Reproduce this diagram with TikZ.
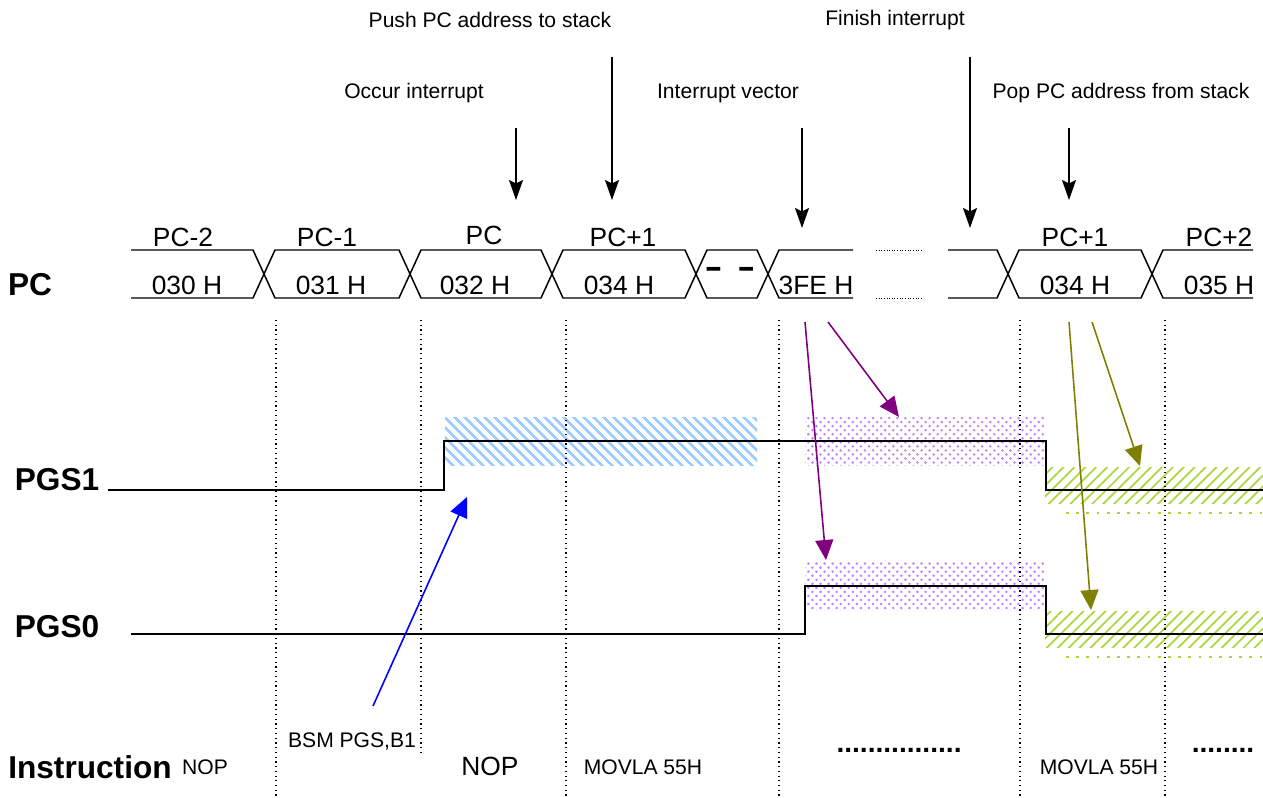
\documentclass[tikz,border=0pt]{standalone}
\usepackage{fontspec}
\setmainfont{Liberation Sans}
\usetikzlibrary{arrows.meta,patterns.meta}
\definecolor{hatchblue}{RGB}{160,205,255}
\definecolor{dotviolet}{RGB}{195,130,255}
\definecolor{hatchgreen}{RGB}{170,215,60}
\definecolor{arrpurple}{RGB}{128,0,128}
\definecolor{arrolive}{RGB}{128,128,0}

\begin{document}
\begin{tikzpicture}[x=0.2mm,y=-0.2mm,
  lbl/.style={inner sep=0pt,font=\fontsize{12}{14}\selectfont},
  bus/.style={inner sep=0pt,font=\fontsize{15}{17}\selectfont},
  sig/.style={inner sep=0pt,font=\fontsize{18}{20}\selectfont\bfseries},
  dotrow/.style={inner sep=0pt,font=\fontsize{16}{18}\selectfont\bfseries},
  w/.style={line width=0.85pt},
  lvl/.style={line width=1.1pt},
  grid/.style={dotted,line width=0.7pt},
  dn/.style={line width=0.8pt,-{Stealth[length=4mm,width=2.8mm,inset=0.7mm]}},
  tip/.style={line width=0.9pt,-{Triangle[length=4mm,width=3.6mm]}}]
\useasboundingbox (0,0) rectangle (1263,798);

% events on top
\node[lbl] (push) at (490,20) {Push PC address to stack};
\node[lbl] (fin) at (895,20) {Finish interrupt};
\node[lbl] (occ) at (414,93) {Occur interrupt};
\node[lbl] (vec) at (728,93) {Interrupt vector};
\node[lbl] (pop) at (1121,93) {Pop PC address from stack};
\coordinate (a1) at (516,128); \coordinate (b1) at (516,200);
\coordinate (a2) at (612,57);  \coordinate (b2) at (612,200);
\coordinate (a3) at (802,128); \coordinate (b3) at (802,228);
\coordinate (a4) at (970,57);  \coordinate (b4) at (970,228);
\coordinate (a5) at (1069,128);\coordinate (b5) at (1069,200);
\foreach \i in {1,...,5} \draw[dn] (a\i) -- (b\i);

% PC bus
\node[sig] (pc) at (30,285) {PC};
\draw[w] (131,250)--(253,250)--(275,298)--(399,298)--(421,250)--(541,250)--(563,298)--(685,298)--(707,250)--(757,250)--(779,298)--(853,298);
\draw[w] (131,298)--(253,298)--(275,250)--(399,250)--(421,298)--(541,298)--(563,250)--(685,250)--(707,298)--(757,298)--(779,250)--(853,250);
\draw[w] (948,250)--(997,250)--(1019,298)--(1141,298)--(1163,250)--(1253,250);
\draw[w] (948,298)--(997,298)--(1019,250)--(1141,250)--(1163,298)--(1253,298);
\draw[densely dotted,line width=0.5pt] (876,250)--(923,250) (876,298)--(923,298);
\node[bus] (n1) at (183,237) {PC-2};
\node[bus] (n2) at (327,237) {PC-1};
\node[bus] (n3) at (484,235) {PC};
\node[bus] (n4) at (623,237) {PC+1};
\node[bus] (n5) at (1075,237) {PC+1};
\node[bus] (n6) at (1219,237) {PC+2};
\node[bus] (v1) at (187,285) {030 H};
\node[bus] (v2) at (331,285) {031 H};
\node[bus] (v3) at (475,285) {032 H};
\node[bus] (v4) at (619,285) {034 H};
\node[sig,xscale=1.7,transform shape] (v5) at (730,272) {- -};
\node[bus] (v6) at (816,285) {3FE H};
\node[bus] (v7) at (1075,285) {034 H};
\node[bus] (v8) at (1219,285) {035 H};

% pages
\fill[pattern={Lines[angle=-45,distance=4pt,line width=1.5pt]},pattern color=hatchblue] (445,417) rectangle (757,465);
\foreach \y in {417,562}{
  \fill[pattern={Dots[distance=4.6pt,radius=0.8pt]},pattern color=dotviolet] (805,\y) rectangle (1045,\y+48);
  \fill[pattern={Dots[distance=4.6pt,radius=0.8pt,xshift=2.3pt,yshift=2.3pt]},pattern color=dotviolet] (805,\y) rectangle (1045,\y+48);}
\foreach \y in {467,611}{
  \fill[pattern={Lines[angle=45,distance=4.4pt,line width=1pt]},pattern color=hatchgreen] (1045,\y) rectangle (1263,\y+36);
  \draw[hatchgreen,line width=1.6pt,dash pattern=on 1.6pt off 4.2pt] (1066,\y+46)--(1263,\y+46);}

\foreach \x in {276,566,779,1020,1165} \draw[grid] (\x,320)--(\x,798);
\draw[grid] (421,320)--(421,752);

% PGS levels
\node[sig] (pgs1) at (57,480) {PGS1};
\node[sig] (pgs0) at (57,627) {PGS0};
\draw[lvl] (108,490)--(444,490)--(444,441)--(1046,441)--(1046,490)--(1263,490);
\draw[lvl] (131,634)--(805,634)--(805,586)--(1046,586)--(1046,634)--(1263,634);

% instructions
\node[sig] (ins) at (90,767) {Instruction};
\node[lbl] (i1) at (205,767) {NOP};
\node[lbl] (bsm) at (352,741) {BSM PGS,B1};
\node[bus] (i2) at (490,766) {NOP};
\node[lbl] (i3) at (643,767) {MOVLA 55H};
\node[dotrow] (i4) at (899,750) {................};
\node[lbl] (i5) at (1099,767) {MOVLA 55H};
\node[dotrow] (i6) at (1223,750) {........};

\coordinate (s0) at (373,706);  \coordinate (e0) at (467,497);
\coordinate (s1) at (805,322);  \coordinate (e1) at (826,560);
\coordinate (s2) at (828,322);  \coordinate (e2) at (899,417);
\coordinate (s3) at (1069,322); \coordinate (e3) at (1091,610);
\coordinate (s4) at (1092,322); \coordinate (e4) at (1140,466);
\draw[tip,blue] (s0) -- (e0);
\draw[tip,arrpurple] (s1) -- (e1);
\draw[tip,arrpurple] (s2) -- (e2);
\draw[tip,arrolive] (s3) -- (e3);
\draw[tip,arrolive] (s4) -- (e4);
\end{tikzpicture}
\end{document}
